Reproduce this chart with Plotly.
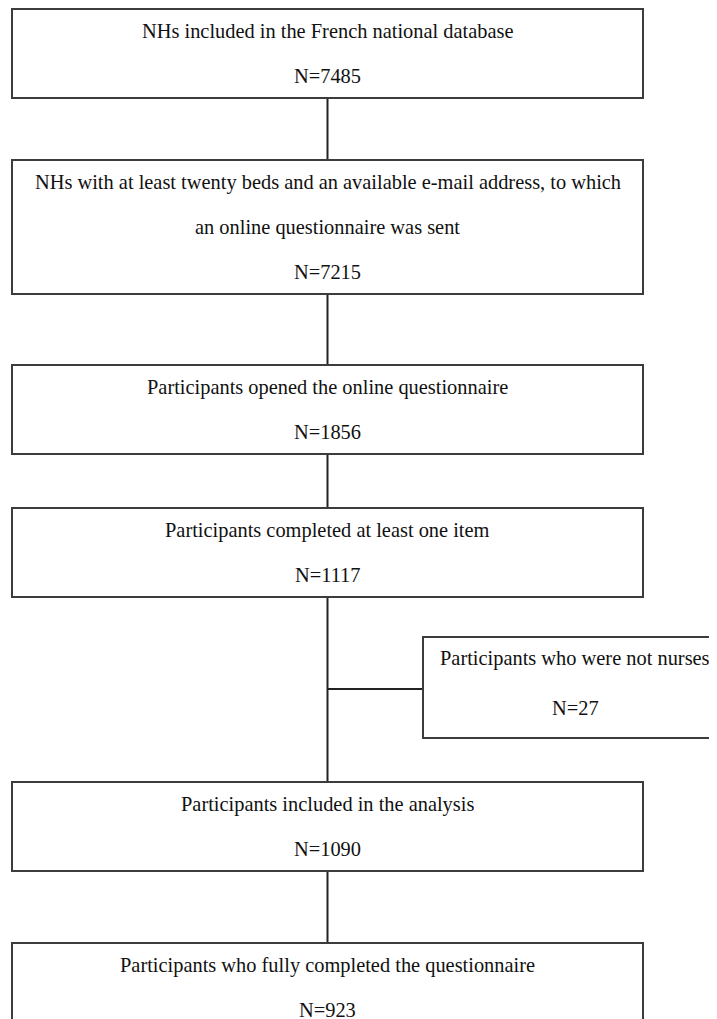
import plotly.graph_objects as go

# ---- data ----
step_labels = [
    ["NHs included in the French national database"],
    ["NHs with at least twenty beds and an available e-mail address, to which",
     "an online questionnaire was sent"],
    ["Participants opened the online questionnaire"],
    ["Participants completed at least one item"],
    ["Participants included in the analysis"],
    ["Participants who fully completed the questionnaire"],
]
step_counts = [7485, 7215, 1856, 1117, 1090, 923]
excluded_label = ["Participants who were not nurses"]
excluded_count = 27

# ---- layout geometry (page pixels in a 717x1019 window) ----
W, H = 717, 1019
OFF = 8  # default page body margin
box_left, box_right = 12, 643
box_tops = [9, 160, 365, 508, 782, 943]
line_gap = 45
pad_top = 22
side_left, side_right = 423, 728
side_top, side_bottom = 637, 738
side_join_y = 689

FONT = "Liberation Serif, Times New Roman, serif"
FS = 20.4
TXT = "#111111"
BORDER = "#3c3c3c"

fig = go.Figure()
fig.add_trace(go.Scatter(x=[OFF, W], y=[OFF, H], mode="markers",
                         marker=dict(opacity=0), hoverinfo="skip", showlegend=False))

shapes, annots = [], []
cx = (box_left + box_right) / 2
bottoms = []
for i, (lines, n) in enumerate(zip(step_labels, step_counts)):
    top = box_tops[i]
    all_lines = lines + [f"N={n}"]
    bottom = top + pad_top * 2 + line_gap * (len(all_lines) - 1)
    bottoms.append(bottom)
    shapes.append(dict(type="rect", xref="x", yref="y", x0=box_left, x1=box_right,
                       y0=top, y1=bottom, line=dict(color=BORDER, width=2),
                       fillcolor="white", layer="above"))
    for k, t in enumerate(all_lines):
        annots.append(dict(x=cx, y=top + pad_top + line_gap * k, xref="x", yref="y",
                           text=t, showarrow=False, xanchor="center", yanchor="middle",
                           font=dict(family=FONT, size=FS, color=TXT)))

# connectors
for i in range(len(box_tops) - 1):
    shapes.append(dict(type="line", xref="x", yref="y", x0=cx, x1=cx,
                       y0=bottoms[i], y1=box_tops[i + 1],
                       line=dict(color="#222222", width=2), layer="below"))

# side box (exclusion)
shapes.append(dict(type="rect", xref="x", yref="y", x0=side_left, x1=side_right,
                   y0=side_top, y1=side_bottom, line=dict(color=BORDER, width=2),
                   fillcolor="white", layer="above"))
shapes.append(dict(type="line", xref="x", yref="y", x0=cx, x1=side_left,
                   y0=side_join_y, y1=side_join_y,
                   line=dict(color="#222222", width=2), layer="below"))
scx = 575
side_lines = excluded_label + [f"N={excluded_count}"]
for k, t in enumerate(side_lines):
    annots.append(dict(x=scx, y=side_top + 21 + 50 * k, xref="x", yref="y",
                       text=t, showarrow=False, xanchor="center", yanchor="middle",
                       font=dict(family=FONT, size=FS, color=TXT)))

fig.update_layout(
    width=W - OFF, height=H - OFF, margin=dict(l=0, r=0, t=0, b=0),
    paper_bgcolor="white", plot_bgcolor="white",
    xaxis=dict(range=[OFF, W], visible=False, fixedrange=True),
    yaxis=dict(range=[H, OFF], visible=False, fixedrange=True),
    shapes=shapes, annotations=annots, showlegend=False,
)
fig.write_html("out.html")
